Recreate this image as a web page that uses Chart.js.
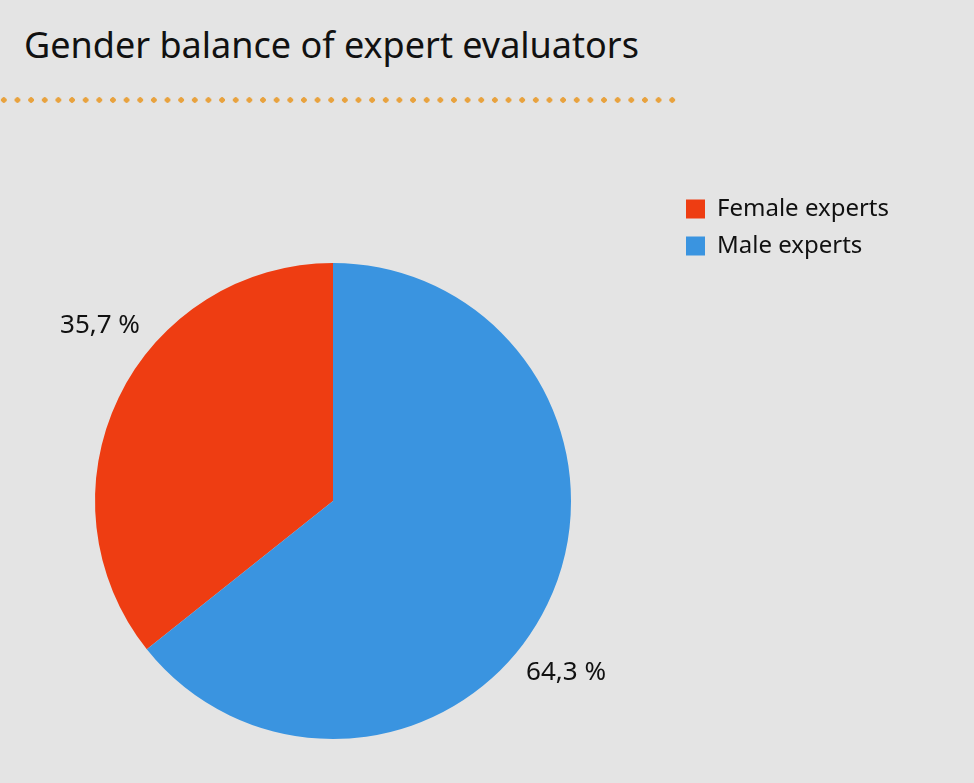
<!DOCTYPE html>
<html>
<head>
<meta charset="utf-8">
<script src="https://cdn.jsdelivr.net/npm/chart.js@4.4.1/dist/chart.umd.min.js"></script>
<style>
  html, body { margin: 0; padding: 0; }
  body {
    width: 974px; height: 783px; overflow: hidden; position: relative;
    background: #e4e4e4;
    font-family: "Noto Sans", sans-serif;
  }
  h1 {
    position: absolute; left: 24px; top: 20px; margin: 0;
    font-weight: normal; font-size: 36px; color: #111;
  }
  .dots {
    position: absolute; left: 0; top: 96px; width: 680px; height: 8px;
    background-image: radial-gradient(circle, #e8a23e 2.5px, transparent 3px);
    background-size: 13.65px 8px;
    background-position: -3px 0;
  }
  #wrap { position: absolute; left: -7px; top: 120px; height: 698px; }
</style>
</head>
<body>
<h1>Gender balance of expert evaluators</h1>
<div class="dots"></div>
<div id="wrap"><canvas id="chart"></canvas></div>
<script>
const labels = ['Female experts', 'Male experts'];
const shares = [35.7, 64.3];
const colors = ['#ee3d12', '#3a94e0'];

const font = '"Noto Sans", sans-serif';
const legendSize = 24;
const legendPad = 13;
const boxW = 19;

// the canvas starts 7px off-page; a 680px chart area puts the pie centre at 333
const m = document.createElement('canvas').getContext('2d');
m.font = legendSize + 'px ' + font;
const textW = Math.max(...labels.map(l => m.measureText(l).width));
const legendW = legendPad + boxW + legendSize / 2 + textW + 10;
const areaW = 680;
const canvasW = Math.ceil(areaW + legendW);
document.getElementById('wrap').style.width = canvasW + 'px';

const total = shares.reduce((a, b) => a + b, 0);

const outsideLabels = {
  id: 'outsideLabels',
  afterDatasetsDraw(chart) {
    const ctx = chart.ctx;
    const meta = chart.getDatasetMeta(0);
    ctx.save();
    ctx.font = '26px ' + font;
    ctx.fillStyle = '#111';
    ctx.textAlign = 'center';
    ctx.textBaseline = 'middle';
    meta.data.forEach((arc, i) => {
      const a = (arc.startAngle + arc.endAngle) / 2 + 0.19;
      const r = arc.outerRadius * 1.22;
      const x = arc.x + Math.cos(a) * r;
      const y = arc.y + Math.sin(a) * r - 2;
      ctx.fillText(shares[i].toFixed(1).replace('.', ',') + ' %', x, y);
    });
    ctx.restore();
  }
};

new Chart(document.getElementById('chart'), {
  type: 'pie',
  data: {
    labels,
    datasets: [{
      data: shares,
      backgroundColor: colors,
      borderWidth: 0,
      hoverOffset: 0
    }]
  },
  options: {
    responsive: true,
    maintainAspectRatio: false,
    animation: false,
    radius: 238,
    rotation: -360 * shares[0] / total,
    layout: { padding: { top: 64, bottom: 0, left: 0, right: 0 } },
    plugins: {
      tooltip: { enabled: false },
      legend: {
        position: 'right',
        align: 'start',
        labels: {
          boxWidth: boxW,
          boxHeight: boxW,
          padding: legendPad,
          color: '#111',
          font: { family: font, size: legendSize }
        }
      }
    }
  },
  plugins: [outsideLabels]
});
</script>
</body>
</html>
